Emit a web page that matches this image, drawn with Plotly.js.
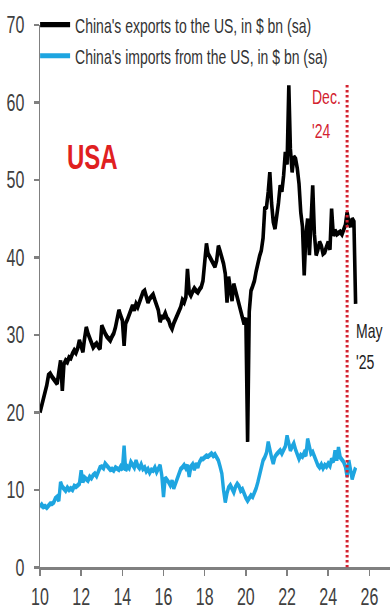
<!DOCTYPE html>
<html>
<head>
<meta charset="utf-8">
<script src="https://cdn.plot.ly/plotly-3.0.1.min.js"></script>
<style>
  html, body { margin: 0; padding: 0; background: #fff; width: 390px; height: 614px; }
  #chart { width: 390px; height: 418px; transform: scaleY(1.47); transform-origin: 0 0; }
</style>
</head>
<body>
<div id="chart"></div>
<script>
// Monthly series, Jan 2010 onward, US$ bn, seasonally adjusted
const startYear = 2010;

const exportsToUS = [
  20.0, 20.8, 21.8, 22.5, 23.5, 24.8, 25.0, 24.6, 24.3, 24.0, 23.7, 25.2, // 2010
  26.7, 22.8, 26.2, 26.7, 26.5, 27.1, 27.0, 27.6, 28.0, 27.7, 28.3, 29.3, // 2011
  28.6, 27.8, 29.5, 31.0, 30.2, 29.5, 28.8, 28.4, 28.7, 28.9, 28.5, 28.2, // 2012
  31.2, 30.5, 30.2, 29.8, 29.5, 29.3, 29.8, 30.2, 31.0, 32.0, 33.2, 32.5, // 2013
  31.9, 28.6, 31.5, 32.0, 32.5, 33.0, 33.8, 33.2, 34.0, 33.6, 34.2, 34.6, // 2014
  35.5, 35.7, 35.0, 34.2, 34.7, 34.9, 35.2, 34.5, 33.8, 33.2, 31.7, 32.3, // 2015
  32.3, 32.8, 32.2, 31.9, 31.2, 30.8, 31.5, 32.0, 32.7, 33.2, 33.6, 34.5, // 2016
  34.2, 34.9, 38.5, 35.5, 35.1, 35.6, 36.0, 35.7, 35.5, 35.9, 36.2, 37.0, // 2017
  39.4, 41.8, 40.5, 40.0, 39.5, 39.2, 38.8, 39.6, 41.5, 40.8, 40.0, 39.2, // 2018
  37.9, 34.2, 37.5, 35.5, 34.4, 36.6, 35.8, 34.9, 34.0, 33.2, 32.6, 31.4, // 2019
  32.2, 16.2, 33.0, 35.7, 36.3, 37.0, 38.2, 39.4, 40.2, 40.9, 42.5, 46.3, // 2020
  46.5, 48.5, 51.0, 47.0, 44.6, 43.7, 45.0, 47.0, 49.3, 48.5, 50.6, 53.6, // 2021
  52.0, 62.2, 54.0, 51.0, 53.0, 52.7, 51.5, 49.5, 45.8, 44.0, 37.7, 43.0, // 2022
  45.0, 40.3, 44.5, 49.3, 43.0, 40.3, 41.0, 42.0, 41.5, 40.5, 40.7, 41.2, // 2023
  42.0, 41.0, 46.3, 42.8, 43.5, 43.0, 43.2, 43.3, 43.0, 43.8, 44.2, 45.8, // 2024
  44.5, 44.0, 45.0, 44.6, 34.0                                            // 2025
];

const importsFromUS = [
  7.8, 8.1, 7.8, 7.9, 7.7, 8.0, 8.2, 8.2, 8.4, 8.9, 9.1, 8.6,             // 2010
  11.0, 10.4, 10.2, 9.9, 10.3, 10.0, 10.2, 10.0, 10.5, 10.4, 10.6, 10.8,  // 2011
  12.5, 11.0, 11.6, 11.4, 11.2, 11.7, 11.5, 11.9, 12.1, 11.8, 12.4, 12.9, // 2012
  13.0, 12.8, 13.4, 13.1, 12.9, 12.6, 12.7, 12.5, 12.9, 12.7, 12.6, 13.0, // 2013
  12.6, 15.7, 12.5, 13.0, 12.8, 13.6, 13.2, 12.9, 13.8, 13.1, 12.8, 13.3, // 2014
  12.7, 12.9, 12.4, 12.7, 12.2, 12.6, 12.5, 12.9, 12.3, 12.8, 13.2, 11.9, // 2015
  9.1, 11.6, 11.4, 11.0, 10.6, 11.2, 10.2, 10.8, 11.5, 12.0, 12.7, 12.9,  // 2016
  13.2, 12.8, 13.2, 11.7, 13.0, 13.3, 12.6, 13.4, 12.9, 13.6, 14.0, 14.0, // 2017
  14.2, 14.4, 14.3, 14.5, 14.7, 14.4, 14.6, 14.2, 13.8, 13.0, 12.1, 10.0, // 2018
  8.4, 9.6, 10.3, 10.6, 10.2, 9.7, 10.4, 10.8, 10.5, 9.9, 10.1, 9.4,      // 2019
  9.0, 8.6, 8.9, 9.3, 9.1, 9.6, 10.2, 11.0, 12.0, 13.2, 13.8, 14.2,       // 2020
  14.8, 16.2, 15.0, 14.2, 13.4, 14.3, 14.6, 14.9, 15.1, 14.7, 15.3, 15.6, // 2021
  17.0, 16.2, 15.1, 15.6, 16.0, 15.2, 14.6, 14.0, 14.5, 14.3, 14.8, 14.4, // 2022
  16.6, 15.4, 14.7, 14.9, 14.3, 13.8, 13.2, 12.9, 13.3, 12.8, 13.2, 13.0, // 2023
  13.4, 13.1, 14.0, 13.6, 15.1, 13.8, 15.5, 14.2, 13.9, 13.6, 13.0, 11.7, // 2024
  13.8, 12.8, 11.4, 12.2, 12.9                                            // 2025
];

const seriesNames = [
  "China's exports to the US, in $ bn (sa)",
  "China's imports from the US, in $ bn (sa)"
];
const markerMonth = '2024-12-01';
const markerTop = 62.5;

// month labels derived from the start year
const months = exportsToUS.map(function (_, i) {
  const y = startYear + Math.floor(i / 12);
  const m = (i % 12) + 1;
  return y + '-' + (m < 10 ? '0' + m : m) + '-01';
});

const FONT = "'Liberation Sans', Arial, sans-serif";
const AXIS = '#808080';

const traces = [
  {
    x: months, y: exportsToUS, name: seriesNames[0], type: 'scatter', mode: 'lines',
    line: { color: '#000000', width: 3.6 }, legendgroup: 'a', hoverinfo: 'skip'
  },
  {
    x: months, y: importsFromUS, name: seriesNames[1], type: 'scatter', mode: 'lines',
    line: { color: '#1ea5e0', width: 3.4 }, legendgroup: 'b', hoverinfo: 'skip'
  }
];

const layout = {
  width: 390, height: 418,
  margin: { l: 40, r: 0, t: 16.7, b: 32.3 },
  paper_bgcolor: '#ffffff', plot_bgcolor: '#ffffff',
  font: { family: FONT, color: '#404040', size: 16 },
  showlegend: true,
  legend: {
    x: -0.014, y: 1.043, xanchor: 'left', yanchor: 'top',
    bgcolor: 'rgba(0,0,0,0)', borderwidth: 0,
    font: { family: FONT, size: 14, color: '#333333' },
    traceorder: 'grouped', tracegroupgap: 0, itemwidth: 30
  },
  xaxis: {
    type: 'date', range: ['2010-01-01', '2027-01-01'],
    tick0: '2010-01-01', dtick: 'M24', tickformat: '%y',
    showline: true, linecolor: AXIS, linewidth: 1.5,
    ticks: 'outside', ticklen: 4, tickcolor: AXIS, tickwidth: 1.5,
    ticklabelstandoff: 1,
    showgrid: false, zeroline: false,
    tickfont: { family: FONT, size: 16, color: '#404040' }
  },
  yaxis: {
    range: [0, 70], dtick: 10,
    showline: true, linecolor: AXIS, linewidth: 1.5,
    ticks: 'outside', ticklen: 5, tickcolor: AXIS, tickwidth: 1.5,
    ticklabelstandoff: 6,
    showgrid: false, zeroline: false,
    tickfont: { family: FONT, size: 16, color: '#404040' }
  },
  shapes: [
    {
      type: 'line', xref: 'x', yref: 'y',
      x0: markerMonth, x1: markerMonth, y0: 0, y1: markerTop,
      line: { color: '#d3222f', width: 3, dash: '1.7px,1.7px' }
    }
  ],
  annotations: [
    { text: '<b>USA</b>', xref: 'paper', yref: 'y', x: 0.15, y: 53.0,
      xanchor: 'center', yanchor: 'middle', showarrow: false,
      font: { family: FONT, size: 24, color: '#e0201f' } },
    { text: 'Dec.', xref: 'paper', yref: 'y', x: 0.772, y: 60.8,
      xanchor: 'left', yanchor: 'middle', showarrow: false,
      font: { family: FONT, size: 14, color: '#d3222f' } },
    { text: "'24", xref: 'paper', yref: 'y', x: 0.772, y: 56.4,
      xanchor: 'left', yanchor: 'middle', showarrow: false,
      font: { family: FONT, size: 14, color: '#d3222f' } },
    { text: 'May', xref: 'paper', yref: 'y', x: 0.896, y: 30.6,
      xanchor: 'left', yanchor: 'middle', showarrow: false,
      font: { family: FONT, size: 14, color: '#222222' } },
    { text: "'25", xref: 'paper', yref: 'y', x: 0.896, y: 26.5,
      xanchor: 'left', yanchor: 'middle', showarrow: false,
      font: { family: FONT, size: 14, color: '#222222' } }
  ]
};

Plotly.newPlot('chart', traces, layout, { staticPlot: true, displayModeBar: false });
</script>
</body>
</html>
